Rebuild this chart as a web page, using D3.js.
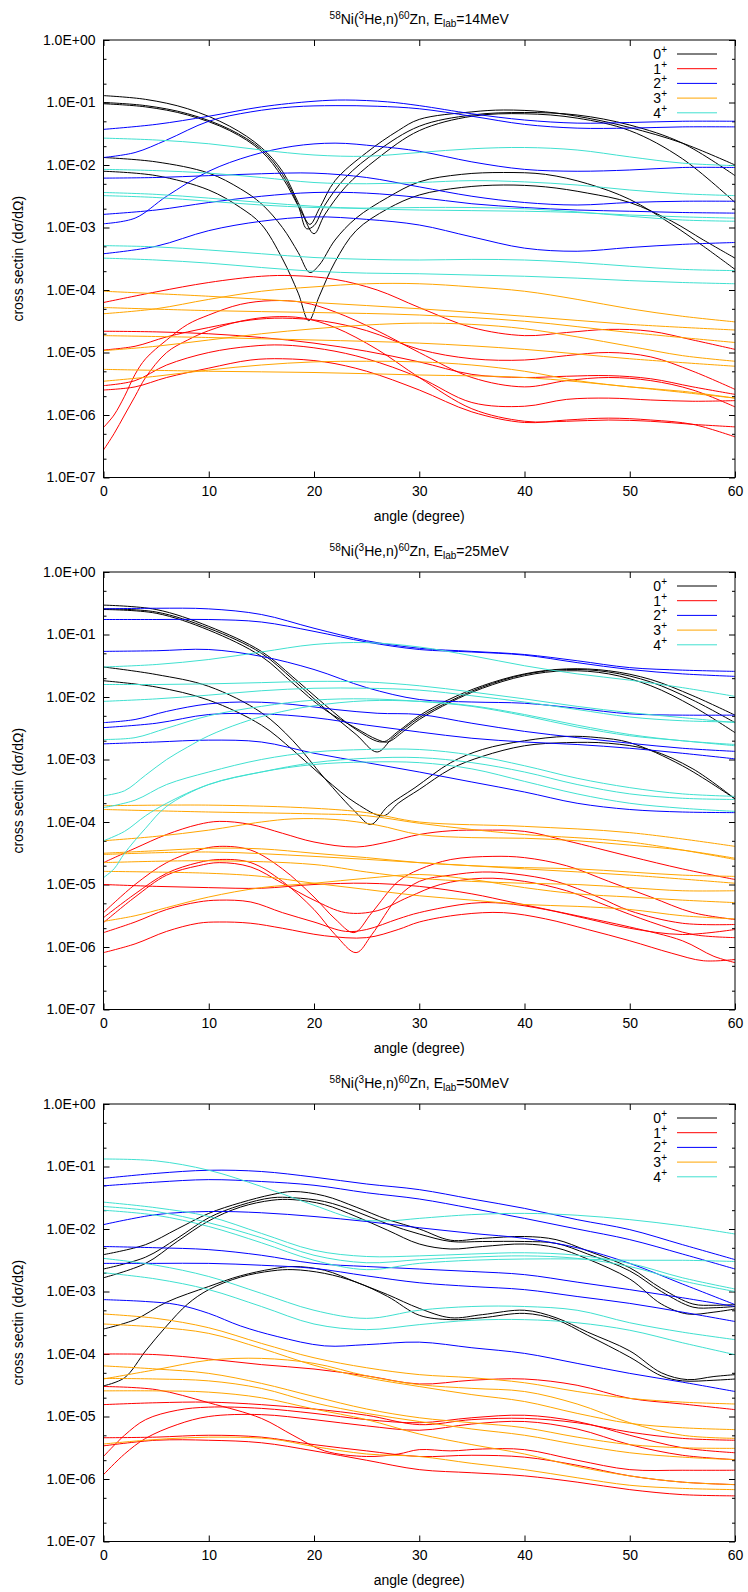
<!DOCTYPE html>
<html>
<head>
<meta charset="utf-8">
<script src="https://cdnjs.cloudflare.com/ajax/libs/d3/7.8.5/d3.min.js"></script>
<style>
  body { margin: 0; background: #fff; }
  svg text { font-family: "Liberation Sans", Arial, Helvetica, sans-serif; fill: #000; }
</style>
</head>
<body>
<svg id="chart"></svg>
<script>
// ---- data ----------------------------------------------------------
var energies = [14, 25, 50];
var spins = ["0", "1", "2", "3", "4"];
var spinColors = ["#000000", "#ff0000", "#0000ff", "#ffa500", "#40e0d0"];
var angleTicks = [0, 10, 20, 30, 40, 50, 60];
var decadeTicks = [1, 1e-1, 1e-2, 1e-3, 1e-4, 1e-5, 1e-6, 1e-7];
var minorTicks = [5e-1, 2e-1, 5e-2, 2e-2, 5e-3, 2e-3, 5e-4, 2e-4, 5e-5, 2e-5, 5e-6, 2e-6, 5e-7, 2e-7];

// every curve: [angle (deg), log10 of dsigma/dOmega]

// E = 14 MeV
var cs14_0 = [
  [[0,-0.89],[4,-0.95],[8,-1.1],[12,-1.38],[15,-1.72],[17,-2.1],[18.5,-2.6],[19.6,-2.95],[20.5,-2.7],[22,-2.25],[25,-1.8],[28,-1.45],[30,-1.27],[35,-1.15],[38,-1.12],[42,-1.15],[46,-1.25],[50,-1.4],[55,-1.65],[60,-2.0]],
  [[0,-1.0],[4,-1.05],[8,-1.18],[12,-1.43],[15,-1.75],[17,-2.15],[18.5,-2.65],[19.3,-3.02],[20,-2.97],[21,-2.65],[23,-2.2],[26,-1.78],[30,-1.38],[35,-1.2],[40,-1.16],[45,-1.2],[50,-1.36],[55,-1.65],[60,-2.17]],
  [[0,-1.02],[4,-1.07],[8,-1.2],[12,-1.45],[15,-1.78],[17,-2.2],[18.8,-2.75],[20,-3.1],[21,-2.8],[23,-2.35],[26,-1.9],[30,-1.45],[35,-1.22],[40,-1.18],[45,-1.25],[50,-1.45],[55,-1.9],[60,-2.6]],
  [[0,-1.88],[5,-1.95],[10,-2.13],[13,-2.38],[15,-2.62],[17,-3.0],[18.5,-3.4],[19.6,-3.72],[20.5,-3.6],[22,-3.2],[24,-2.85],[27,-2.52],[30,-2.27],[34,-2.15],[38,-2.12],[42,-2.15],[46,-2.3],[50,-2.55],[54,-2.95],[57,-3.3],[60,-3.67]],
  [[0,-2.1],[5,-2.17],[10,-2.4],[13,-2.68],[15,-2.95],[17,-3.5],[18.5,-4.05],[19.5,-4.49],[20.5,-4.1],[22,-3.55],[24,-3.05],[27,-2.7],[30,-2.48],[34,-2.36],[38,-2.32],[42,-2.35],[46,-2.45],[50,-2.6],[54,-2.9],[57,-3.2],[60,-3.49]]
];
var cs14_1 = [
  [[0,-4.2],[5,-4.03],[10,-3.88],[15,-3.78],[18,-3.77],[22,-3.83],[26,-4.0],[30,-4.28],[35,-4.6],[40,-4.73],[44,-4.68],[48,-4.63],[52,-4.66],[56,-4.8],[60,-4.95]],
  [[0,-4.66],[5,-4.67],[10,-4.7],[15,-4.76],[20,-4.85],[25,-4.98],[30,-5.15],[35,-5.35],[40,-5.4],[44,-5.38],[48,-5.37],[52,-5.42],[56,-5.55],[60,-5.67]],
  [[0,-4.96],[3,-4.9],[6,-4.75],[10,-4.6],[14,-4.48],[17,-4.45],[21,-4.5],[25,-4.65],[30,-4.95],[35,-5.1],[40,-5.12],[44,-5.05],[48,-5.0],[52,-5.07],[56,-5.3],[60,-5.59]],
  [[0,-5.53],[3,-5.45],[6,-5.2],[10,-5.0],[14,-4.9],[17,-4.88],[21,-4.95],[25,-5.1],[30,-5.4],[35,-5.8],[40,-5.86],[44,-5.75],[48,-5.73],[52,-5.76],[56,-5.78],[60,-5.77]],
  [[0,-5.6],[3,-5.55],[6,-5.4],[10,-5.25],[14,-5.12],[17,-5.1],[21,-5.15],[25,-5.3],[30,-5.6],[35,-5.95],[40,-6.12],[44,-6.08],[48,-6.05],[52,-6.08],[56,-6.15],[60,-6.35]],
  [[0,-6.2],[1,-6.0],[2,-5.7],[3,-5.35],[4,-5.1],[6,-4.8],[8,-4.55],[10,-4.4],[13,-4.23],[16,-4.17],[19,-4.2],[22,-4.35],[26,-4.65],[30,-5.0],[35,-5.4],[40,-5.55],[44,-5.45],[48,-5.4],[52,-5.45],[56,-5.6],[60,-5.87]],
  [[0,-6.56],[1,-6.3],[2,-6.0],[3,-5.7],[4,-5.4],[6,-5.0],[8,-4.8],[10,-4.65],[13,-4.5],[16,-4.43],[19,-4.45],[22,-4.6],[26,-4.95],[30,-5.4],[35,-5.9],[40,-6.1],[44,-6.1],[48,-6.08],[52,-6.1],[56,-6.15],[60,-6.19]]
];
var cs14_2 = [
  [[0,-1.43],[5,-1.35],[10,-1.22],[15,-1.07],[20,-0.98],[23,-0.96],[27,-0.99],[30,-1.05],[35,-1.18],[40,-1.28],[45,-1.33],[50,-1.32],[55,-1.3],[60,-1.3]],
  [[0,-1.88],[3,-1.8],[6,-1.6],[10,-1.3],[14,-1.15],[18,-1.07],[22,-1.05],[26,-1.06],[30,-1.1],[35,-1.22],[40,-1.35],[45,-1.41],[50,-1.41],[55,-1.39],[60,-1.39]],
  [[0,-2.94],[3,-2.85],[6,-2.5],[10,-2.1],[14,-1.85],[18,-1.7],[22,-1.65],[26,-1.7],[30,-1.78],[35,-1.95],[40,-2.07],[45,-2.1],[50,-2.08],[55,-2.04],[60,-2.04]],
  [[0,-2.21],[5,-2.2],[10,-2.17],[15,-2.14],[20,-2.13],[25,-2.2],[30,-2.35],[35,-2.5],[40,-2.6],[45,-2.64],[50,-2.6],[55,-2.58],[60,-2.58]],
  [[0,-2.79],[5,-2.72],[10,-2.6],[15,-2.5],[20,-2.44],[25,-2.45],[30,-2.52],[35,-2.62],[40,-2.68],[45,-2.72],[50,-2.74],[55,-2.76],[60,-2.77]],
  [[0,-3.42],[5,-3.3],[10,-3.05],[15,-2.9],[20,-2.83],[25,-2.87],[30,-2.96],[35,-3.15],[40,-3.33],[45,-3.38],[50,-3.32],[55,-3.27],[60,-3.24]]
];
var cs14_3 = [
  [[0,-4.02],[10,-4.1],[20,-4.2],[30,-4.3],[40,-4.42],[50,-4.55],[60,-4.64]],
  [[0,-4.38],[5,-4.3],[10,-4.15],[15,-4.02],[20,-3.95],[25,-3.9],[30,-3.9],[35,-3.95],[40,-4.02],[45,-4.15],[50,-4.3],[55,-4.42],[60,-4.51]],
  [[0,-4.28],[10,-4.33],[20,-4.36],[30,-4.4],[40,-4.5],[50,-4.68],[60,-4.84]],
  [[0,-4.73],[10,-4.76],[20,-4.8],[30,-4.85],[40,-4.95],[50,-5.1],[60,-5.22]],
  [[0,-4.97],[5,-4.9],[10,-4.8],[15,-4.7],[20,-4.62],[25,-4.56],[30,-4.53],[35,-4.55],[40,-4.62],[45,-4.75],[50,-4.9],[55,-5.05],[60,-5.14]],
  [[0,-5.27],[10,-5.3],[20,-5.32],[30,-5.36],[40,-5.4],[50,-5.55],[60,-5.73]],
  [[0,-5.46],[5,-5.38],[10,-5.28],[15,-5.2],[20,-5.15],[25,-5.14],[30,-5.15],[35,-5.2],[40,-5.3],[45,-5.45],[50,-5.55],[55,-5.62],[60,-5.73]]
];
var cs14_4 = [
  [[0,-1.57],[5,-1.6],[10,-1.66],[15,-1.76],[20,-1.84],[25,-1.86],[30,-1.8],[35,-1.74],[40,-1.72],[45,-1.76],[50,-1.87],[55,-1.97],[60,-2.01]],
  [[0,-2.07],[5,-2.09],[10,-2.13],[15,-2.2],[20,-2.28],[25,-2.3],[30,-2.28],[35,-2.25],[40,-2.27],[45,-2.32],[50,-2.4],[55,-2.46],[60,-2.49]],
  [[0,-2.44],[5,-2.47],[10,-2.53],[15,-2.6],[20,-2.66],[25,-2.7],[30,-2.72],[35,-2.73],[40,-2.74],[45,-2.76],[50,-2.8],[55,-2.83],[60,-2.85]],
  [[0,-2.49],[5,-2.52],[10,-2.58],[15,-2.64],[20,-2.68],[25,-2.69],[30,-2.68],[35,-2.68],[40,-2.7],[45,-2.75],[50,-2.82],[55,-2.88],[60,-2.9]],
  [[0,-3.29],[5,-3.31],[10,-3.36],[15,-3.42],[20,-3.48],[25,-3.51],[30,-3.52],[35,-3.51],[40,-3.52],[45,-3.56],[50,-3.62],[55,-3.67],[60,-3.69]],
  [[0,-3.49],[5,-3.52],[10,-3.57],[15,-3.64],[20,-3.7],[25,-3.73],[30,-3.74],[35,-3.76],[40,-3.78],[45,-3.81],[50,-3.85],[55,-3.88],[60,-3.9]]
];

// E = 25 MeV
var cs25_0 = [
  [[0,-0.53],[5,-0.6],[10,-0.87],[15,-1.27],[18,-1.68],[21,-2.12],[24,-2.52],[26.5,-2.72],[28,-2.55],[30,-2.3],[32.7,-2.05],[36,-1.82],[40,-1.63],[44,-1.55],[48,-1.58],[52,-1.72],[56,-1.98],[60,-2.29]],
  [[0,-0.59],[5,-0.64],[10,-0.9],[15,-1.3],[18,-1.72],[21,-2.18],[24,-2.6],[26,-2.88],[27.5,-2.65],[30,-2.33],[33,-2.06],[36,-1.84],[40,-1.64],[44,-1.56],[48,-1.6],[52,-1.76],[56,-2.05],[60,-2.41]],
  [[0,-0.6],[5,-0.66],[10,-0.93],[15,-1.35],[18,-1.78],[21,-2.2],[24,-2.5],[26,-2.68],[27,-2.72],[28.5,-2.55],[30,-2.36],[33,-2.08],[36,-1.86],[40,-1.66],[44,-1.58],[48,-1.63],[52,-1.82],[56,-2.15],[60,-2.57]],
  [[0,-1.52],[5,-1.64],[10,-1.83],[15,-2.25],[18,-2.7],[21,-3.3],[24,-3.85],[25.4,-4.04],[27,-3.75],[29.6,-3.45],[33,-3.05],[36,-2.84],[40,-2.7],[44,-2.63],[47,-2.65],[50,-2.73],[55,-3.1],[60,-3.63]],
  [[0,-1.74],[5,-1.84],[10,-2.05],[15,-2.45],[18,-2.85],[21,-3.3],[24,-3.7],[26.6,-3.9],[28,-3.7],[30,-3.48],[33,-3.15],[36,-2.95],[40,-2.78],[44,-2.73],[48,-2.74],[52,-2.85],[56,-3.15],[60,-3.63]]
];
var cs25_1 = [
  [[0,-4.65],[3,-4.42],[6,-4.2],[9,-4.04],[11,-3.99],[14,-4.04],[17,-4.18],[20,-4.32],[24,-4.4],[27,-4.32],[30,-4.2],[33,-4.14],[36,-4.13],[40,-4.15],[44,-4.3],[50,-4.55],[55,-4.75],[60,-4.92]],
  [[0,-5.45],[3,-5.0],[6,-4.65],[9,-4.45],[11,-4.39],[14,-4.45],[17,-4.75],[20,-5.2],[22,-5.55],[23.8,-5.77],[25.5,-5.45],[28,-4.95],[30,-4.76],[33,-4.6],[37,-4.55],[40,-4.57],[44,-4.7],[48,-4.95],[52,-5.2],[56,-5.45],[60,-5.56]],
  [[0,-5.53],[3,-5.15],[6,-4.82],[9,-4.65],[11,-4.6],[14,-4.65],[17,-4.95],[20,-5.4],[22,-5.8],[24,-6.09],[25.5,-5.8],[28,-5.2],[30,-4.95],[33,-4.85],[36,-4.8],[39,-4.83],[43,-4.95],[47,-5.2],[50,-5.42],[55,-5.62],[60,-5.64]],
  [[0,-5.0],[5,-5.03],[10,-5.05],[15,-5.06],[20,-5.0],[25,-4.98],[30,-5.03],[35,-5.15],[39,-5.29],[45,-5.5],[50,-5.68],[55,-5.9],[58,-6.15],[60,-6.25]],
  [[0,-5.77],[3,-5.6],[6,-5.4],[9,-5.28],[11,-5.25],[14,-5.28],[17,-5.45],[20,-5.6],[23,-5.75],[25,-5.72],[28,-5.55],[30,-5.45],[35,-5.3],[38,-5.3],[42,-5.4],[46,-5.55],[50,-5.7],[55,-5.8],[60,-5.72]],
  [[0,-6.09],[3,-5.95],[6,-5.75],[9,-5.62],[11,-5.6],[14,-5.62],[17,-5.7],[21,-5.82],[25,-5.85],[28,-5.72],[30,-5.6],[34,-5.48],[38,-5.45],[42,-5.55],[46,-5.72],[50,-5.9],[54,-6.1],[57,-6.22],[60,-6.2]],
  [[0,-5.61],[3,-5.2],[6,-4.85],[9,-4.7],[11,-4.65],[14,-4.72],[17,-4.98],[20,-5.25],[23,-5.45],[26,-5.42],[29,-5.2],[32,-5.0],[36,-4.9],[40,-4.95],[44,-5.1],[48,-5.35],[52,-5.6],[56,-5.8],[60,-5.85]]
];
var cs25_2 = [
  [[0,-0.59],[5,-0.58],[10,-0.59],[15,-0.68],[20,-0.9],[25,-1.1],[30,-1.22],[35,-1.27],[40,-1.32],[45,-1.42],[50,-1.53],[55,-1.57],[60,-1.59]],
  [[0,-0.76],[5,-0.76],[10,-0.76],[15,-0.8],[20,-0.95],[25,-1.12],[30,-1.24],[35,-1.28],[40,-1.33],[45,-1.45],[50,-1.56],[55,-1.63],[60,-1.67]],
  [[0,-1.27],[5,-1.26],[10,-1.24],[15,-1.35],[20,-1.56],[25,-1.85],[30,-2.04],[35,-2.08],[40,-2.1],[45,-2.18],[50,-2.27],[55,-2.29],[60,-2.29]],
  [[0,-2.41],[3,-2.36],[6,-2.23],[10,-2.11],[14,-2.08],[18,-2.12],[22,-2.2],[26,-2.26],[30,-2.28],[35,-2.42],[40,-2.55],[45,-2.65],[50,-2.74],[55,-2.82],[60,-2.87]],
  [[0,-2.49],[5,-2.42],[10,-2.28],[15,-2.27],[20,-2.33],[25,-2.45],[30,-2.56],[35,-2.66],[40,-2.72],[45,-2.76],[50,-2.82],[55,-2.9],[60,-2.99]],
  [[0,-2.75],[5,-2.72],[10,-2.69],[15,-2.72],[20,-2.9],[25,-3.05],[30,-3.2],[35,-3.36],[40,-3.52],[45,-3.7],[50,-3.8],[55,-3.84],[60,-3.85]]
];
var cs25_3 = [
  [[0,-3.74],[10,-3.73],[20,-3.78],[25,-3.85],[30,-4.0],[40,-4.07],[50,-4.17],[60,-4.39]],
  [[0,-3.8],[10,-3.84],[20,-3.87],[25,-3.9],[30,-4.02],[35,-4.12],[40,-4.2],[50,-4.32],[60,-4.6]],
  [[0,-4.3],[5,-4.23],[10,-4.13],[15,-4.0],[18,-3.95],[22,-3.96],[26,-4.05],[30,-4.2],[35,-4.25],[40,-4.26],[45,-4.3],[50,-4.37],[55,-4.45],[60,-4.58]],
  [[0,-4.5],[5,-4.46],[10,-4.42],[15,-4.43],[20,-4.5],[25,-4.57],[30,-4.65],[35,-4.7],[40,-4.73],[45,-4.75],[50,-4.8],[55,-4.85],[60,-4.87]],
  [[0,-4.52],[10,-4.48],[20,-4.55],[30,-4.65],[40,-4.75],[50,-4.85],[60,-4.98]],
  [[0,-4.65],[10,-4.62],[20,-4.68],[25,-4.8],[30,-4.9],[35,-4.95],[40,-4.98],[45,-5.0],[50,-5.05],[55,-5.1],[60,-5.1]],
  [[0,-4.79],[10,-4.82],[15,-4.87],[20,-4.98],[25,-5.08],[30,-5.18],[35,-5.25],[40,-5.32],[45,-5.35],[50,-5.4],[55,-5.5],[60,-5.55]],
  [[0,-5.59],[3,-5.5],[6,-5.37],[10,-5.2],[15,-5.05],[20,-4.98],[25,-4.9],[30,-4.84],[35,-4.92],[40,-5.05],[45,-5.15],[50,-5.2],[55,-5.25],[60,-5.29]]
];
var cs25_4 = [
  [[0,-1.52],[5,-1.48],[10,-1.4],[15,-1.28],[20,-1.16],[25,-1.13],[30,-1.2],[35,-1.34],[40,-1.5],[45,-1.63],[50,-1.73],[55,-1.85],[60,-1.99]],
  [[0,-1.8],[5,-1.8],[10,-1.79],[15,-1.77],[20,-1.75],[25,-1.76],[30,-1.82],[35,-1.92],[40,-2.03],[45,-2.15],[50,-2.25],[55,-2.33],[60,-2.41]],
  [[0,-2.07],[5,-2.03],[10,-1.97],[15,-1.9],[20,-1.86],[25,-1.86],[30,-1.89],[35,-1.98],[40,-2.08],[45,-2.2],[50,-2.32],[55,-2.38],[60,-2.4]],
  [[0,-2.68],[3,-2.65],[6,-2.5],[10,-2.3],[15,-2.15],[20,-2.05],[25,-2.03],[30,-2.07],[35,-2.15],[40,-2.3],[45,-2.48],[50,-2.62],[55,-2.7],[60,-2.78]],
  [[0,-3.58],[2,-3.5],[4,-3.25],[6,-3.0],[8,-2.8],[10,-2.62],[13,-2.42],[16,-2.27],[20,-2.14],[25,-2.06],[30,-2.07],[35,-2.14],[40,-2.28],[45,-2.45],[50,-2.6],[55,-2.7],[60,-2.76]],
  [[0,-3.77],[3,-3.65],[6,-3.4],[10,-3.2],[15,-3.0],[20,-2.88],[25,-2.84],[30,-2.84],[35,-2.93],[40,-3.1],[45,-3.3],[50,-3.45],[55,-3.55],[60,-3.59]],
  [[0,-4.3],[2,-4.15],[4,-3.9],[6,-3.7],[10,-3.4],[15,-3.2],[20,-3.05],[25,-2.98],[30,-2.97],[35,-3.05],[40,-3.2],[45,-3.4],[50,-3.55],[55,-3.62],[60,-3.64]],
  [[0,-4.89],[1,-4.75],[2,-4.5],[4,-4.1],[6,-3.75],[10,-3.4],[15,-3.2],[20,-3.08],[25,-3.04],[30,-3.05],[35,-3.15],[40,-3.35],[45,-3.55],[50,-3.7],[55,-3.78],[60,-3.83]]
];

// E = 50 MeV
var cs50_0 = [
  [[0,-2.41],[4,-2.25],[7,-2.0],[10,-1.75],[13,-1.58],[16,-1.45],[18,-1.4],[21,-1.47],[24,-1.65],[27,-1.85],[30,-2.0],[33,-2.18],[36,-2.15],[40,-2.12],[43,-2.17],[46,-2.35],[50,-2.62],[53,-2.95],[56,-3.2],[58,-3.22],[60,-3.21]],
  [[0,-2.64],[4,-2.45],[7,-2.15],[10,-1.82],[13,-1.62],[16,-1.5],[18,-1.5],[21,-1.56],[24,-1.72],[27,-1.92],[30,-2.08],[33,-2.2],[36,-2.2],[40,-2.2],[43,-2.23],[46,-2.4],[50,-2.67],[53,-3.0],[56,-3.25],[58,-3.26],[60,-3.24]],
  [[0,-2.78],[4,-2.55],[7,-2.2],[10,-1.87],[13,-1.65],[16,-1.54],[18,-1.53],[21,-1.61],[24,-1.8],[27,-2.02],[30,-2.24],[33,-2.32],[36,-2.28],[40,-2.24],[43,-2.3],[46,-2.48],[50,-2.8],[53,-3.2],[55.5,-3.36],[58,-3.33],[60,-3.28]],
  [[0,-3.6],[3,-3.45],[6,-3.17],[10,-2.92],[13,-2.75],[16,-2.64],[18,-2.6],[21,-2.66],[24,-2.85],[27,-3.05],[30,-3.27],[33,-3.42],[36,-3.37],[40,-3.3],[43,-3.42],[46,-3.65],[50,-3.95],[53,-4.3],[55.5,-4.41],[58,-4.36],[60,-4.33]],
  [[0,-4.51],[2,-4.38],[4,-3.95],[6,-3.55],[8,-3.2],[10,-2.97],[13,-2.77],[16,-2.67],[18,-2.65],[21,-2.71],[24,-2.85],[27,-3.08],[30,-3.38],[33,-3.45],[36,-3.42],[40,-3.35],[43,-3.45],[46,-3.7],[50,-4.05],[53,-4.35],[55,-4.43],[58,-4.42],[60,-4.4]]
];
var cs50_1 = [
  [[0,-4.0],[5,-4.01],[10,-4.08],[15,-4.17],[20,-4.24],[25,-4.35],[30,-4.48],[35,-4.42],[40,-4.4],[45,-4.5],[50,-4.71],[55,-4.8],[60,-4.89]],
  [[0,-4.52],[5,-4.57],[10,-4.78],[15,-5.03],[18,-5.3],[21,-5.55],[25,-5.64],[28,-5.6],[30,-5.53],[33,-5.55],[36,-5.52],[40,-5.53],[45,-5.7],[50,-5.85],[55,-5.86],[60,-5.86]],
  [[0,-4.81],[5,-4.78],[10,-4.77],[15,-4.81],[20,-4.88],[25,-4.98],[30,-5.13],[35,-5.05],[40,-5.03],[45,-5.1],[50,-5.25],[55,-5.35],[60,-5.38]],
  [[0,-5.64],[2,-5.3],[4,-5.05],[7,-4.9],[10,-4.85],[15,-4.87],[20,-4.95],[25,-5.05],[30,-5.1],[35,-5.02],[40,-4.98],[45,-5.08],[50,-5.3],[55,-5.5],[60,-5.58]],
  [[0,-5.93],[2,-5.6],[4,-5.35],[7,-5.13],[10,-5.0],[15,-4.97],[20,-5.05],[25,-5.15],[30,-5.22],[35,-5.12],[40,-5.08],[45,-5.2],[50,-5.45],[55,-5.62],[60,-5.69]],
  [[0,-5.34],[5,-5.33],[10,-5.3],[15,-5.33],[20,-5.45],[25,-5.55],[30,-5.64],[35,-5.62],[40,-5.65],[45,-5.78],[50,-5.95],[55,-6.05],[60,-6.09]],
  [[0,-5.47],[5,-5.38],[10,-5.38],[15,-5.42],[20,-5.55],[25,-5.7],[30,-5.85],[35,-5.9],[40,-5.95],[45,-6.05],[50,-6.17],[55,-6.25],[60,-6.27]]
];
var cs50_2 = [
  [[0,-1.19],[5,-1.11],[10,-1.06],[15,-1.08],[20,-1.17],[25,-1.28],[30,-1.37],[35,-1.52],[40,-1.67],[45,-1.85],[50,-2.01],[55,-2.25],[60,-2.49]],
  [[0,-1.31],[5,-1.25],[10,-1.21],[15,-1.24],[20,-1.3],[25,-1.42],[30,-1.52],[35,-1.67],[40,-1.83],[45,-2.0],[50,-2.17],[55,-2.4],[60,-2.64]],
  [[0,-1.93],[5,-1.77],[10,-1.72],[15,-1.74],[20,-1.8],[25,-1.88],[30,-1.98],[35,-2.07],[40,-2.15],[45,-2.3],[50,-2.55],[55,-2.88],[60,-3.21]],
  [[0,-2.28],[5,-2.3],[10,-2.33],[15,-2.42],[20,-2.55],[25,-2.6],[30,-2.64],[35,-2.68],[40,-2.73],[45,-2.85],[50,-2.97],[55,-3.1],[60,-3.24]],
  [[0,-2.55],[5,-2.55],[10,-2.55],[15,-2.58],[20,-2.63],[25,-2.75],[30,-2.86],[35,-2.92],[40,-2.97],[45,-3.08],[50,-3.19],[55,-3.33],[60,-3.48]],
  [[0,-3.13],[4,-3.16],[7,-3.21],[10,-3.35],[13,-3.55],[16.5,-3.72],[21,-3.87],[25,-3.85],[30,-3.81],[35,-3.9],[40,-3.99],[45,-4.15],[50,-4.31],[55,-4.45],[60,-4.6]]
];
var cs50_3 = [
  [[0,-3.36],[5,-3.43],[10,-3.58],[15,-3.83],[20,-4.06],[25,-4.22],[30,-4.33],[35,-4.38],[40,-4.46],[45,-4.6],[50,-4.71],[55,-4.77],[60,-4.8]],
  [[0,-3.52],[5,-3.57],[10,-3.67],[15,-3.91],[20,-4.18],[25,-4.38],[30,-4.52],[35,-4.65],[40,-4.76],[45,-4.95],[50,-5.11],[55,-5.18],[60,-5.21]],
  [[0,-4.4],[5,-4.25],[10,-4.1],[15,-4.07],[20,-4.15],[25,-4.35],[30,-4.49],[35,-4.55],[40,-4.6],[45,-4.8],[50,-5.1],[55,-5.3],[60,-5.35]],
  [[0,-4.19],[5,-4.24],[10,-4.31],[15,-4.47],[20,-4.68],[25,-4.88],[30,-5.02],[35,-5.1],[40,-5.18],[45,-5.33],[50,-5.45],[55,-5.5],[60,-5.51]],
  [[0,-4.39],[5,-4.4],[10,-4.43],[15,-4.55],[20,-4.78],[25,-4.95],[30,-5.08],[35,-5.2],[40,-5.3],[45,-5.45],[50,-5.58],[55,-5.65],[60,-5.69]],
  [[0,-4.59],[5,-4.59],[10,-4.61],[15,-4.7],[20,-4.88],[25,-5.05],[30,-5.28],[35,-5.45],[40,-5.6],[45,-5.8],[50,-5.95],[55,-6.05],[60,-6.09]],
  [[0,-5.44],[4,-5.38],[8,-5.34],[12,-5.33],[16,-5.36],[20,-5.48],[25,-5.6],[30,-5.64],[35,-5.75],[40,-5.85],[45,-5.98],[50,-6.1],[55,-6.15],[60,-6.17]]
];
var cs50_4 = [
  [[0,-0.88],[5,-0.91],[10,-1.06],[15,-1.32],[20,-1.62],[24,-1.84],[27,-1.87],[30,-1.83],[35,-1.77],[40,-1.75],[45,-1.78],[50,-1.85],[55,-1.95],[60,-2.08]],
  [[0,-1.57],[5,-1.66],[10,-1.8],[15,-2.07],[20,-2.34],[25,-2.44],[30,-2.43],[35,-2.4],[40,-2.38],[45,-2.42],[50,-2.55],[55,-2.78],[60,-2.96]],
  [[0,-1.64],[5,-1.72],[10,-1.9],[15,-2.14],[20,-2.42],[25,-2.54],[30,-2.49],[35,-2.45],[40,-2.43],[45,-2.47],[50,-2.6],[55,-2.83],[60,-3.0]],
  [[0,-1.7],[5,-1.78],[10,-1.96],[15,-2.22],[20,-2.5],[25,-2.65],[30,-2.55],[35,-2.5],[40,-2.48],[45,-2.48],[50,-2.5],[55,-2.5],[60,-2.52]],
  [[0,-2.47],[5,-2.58],[10,-2.76],[15,-3.03],[20,-3.3],[25,-3.43],[30,-3.3],[35,-3.24],[40,-3.24],[45,-3.3],[50,-3.5],[55,-3.65],[60,-3.77]],
  [[0,-2.7],[5,-2.8],[10,-2.97],[15,-3.24],[20,-3.52],[25,-3.61],[30,-3.53],[35,-3.46],[40,-3.45],[45,-3.5],[50,-3.62],[55,-3.82],[60,-4.01]]
];

var panelSets = [
  [cs14_0, cs14_1, cs14_2, cs14_3, cs14_4],
  [cs25_0, cs25_1, cs25_2, cs25_3, cs25_4],
  [cs50_0, cs50_1, cs50_2, cs50_3, cs50_4]
];

// ---- layout --------------------------------------------------------
var W = 748, H = 1592;
var margin = {left: 103.5, right: 13, top: 40};
var plotH = 437.5, panelStep = 532;
var plotW = W - margin.left - margin.right;

var svg = d3.select("#chart").attr("width", W).attr("height", H);

var x = d3.scaleLinear().domain([0, 60]).range([0, plotW]);
var y = d3.scaleLog().domain([1e-7, 1]).range([plotH, 0]);

function sciLabel(d) {
  var ex = Math.round(Math.log10(d));
  return "1.0E" + (ex < 0 ? "-" : "+") + String(Math.abs(ex)).padStart(2, "0");
}

var line = d3.line()
  .x(function(d) { return x(d[0]); })
  .y(function(d) { return y(Math.pow(10, d[1])); })
  .curve(d3.curveCatmullRom.alpha(0.5));

energies.forEach(function(E, k) {
  var g = svg.append("g")
    .attr("transform", "translate(" + margin.left + "," + (margin.top + k * panelStep) + ")");

  // title
  var t = g.append("text")
    .attr("x", plotW / 2).attr("y", -16)
    .attr("text-anchor", "middle")
    .style("font-size", "14px");
  t.append("tspan").attr("dy", -5).style("font-size", "10px").text("58");
  t.append("tspan").attr("dy", 5).text("Ni(");
  t.append("tspan").attr("dy", -5).style("font-size", "10px").text("3");
  t.append("tspan").attr("dy", 5).text("He,n)");
  t.append("tspan").attr("dy", -5).style("font-size", "10px").text("60");
  t.append("tspan").attr("dy", 5).text("Zn, E");
  t.append("tspan").attr("dy", 3).style("font-size", "10px").text("lab");
  t.append("tspan").attr("dy", -3).text("=" + E + "MeV");

  // axes
  var xb = g.append("g").attr("transform", "translate(0," + plotH + ")")
    .call(d3.axisBottom(x).tickValues(angleTicks).tickSize(-6).tickPadding(9));
  var xt = g.append("g")
    .call(d3.axisTop(x).tickValues(angleTicks).tickSize(-6).tickFormat(""));
  var yl = g.append("g")
    .call(d3.axisLeft(y).tickValues(decadeTicks).tickSize(-6).tickPadding(8).tickFormat(sciLabel));
  var ylm = g.append("g")
    .call(d3.axisLeft(y).tickValues(minorTicks).tickSize(-3).tickFormat(""));
  var yr = g.append("g").attr("transform", "translate(" + plotW + ",0)")
    .call(d3.axisRight(y).tickValues(decadeTicks).tickSize(-6).tickFormat(""));
  var yrm = g.append("g").attr("transform", "translate(" + plotW + ",0)")
    .call(d3.axisRight(y).tickValues(minorTicks).tickSize(-3).tickFormat(""));

  [xb, xt, yl, ylm, yr, yrm].forEach(function(a) {
    a.select(".domain").remove();
    a.selectAll("text").style("font-size", "14px").style("font-family", "'Liberation Sans', Arial, sans-serif");
    a.selectAll("line").attr("stroke", "#000");
  });

  // axis labels
  g.append("text")
    .attr("x", plotW / 2).attr("y", plotH + 43)
    .attr("text-anchor", "middle").style("font-size", "14px")
    .text("angle (degree)");
  g.append("text")
    .attr("transform", "translate(" + (-81) + "," + (plotH / 2) + ") rotate(-90)")
    .attr("text-anchor", "middle").style("font-size", "14px")
    .text("cross sectin (d\u03c3/d\u03a9)");

  // curves
  var clipId = "clip" + k;
  g.append("clipPath").attr("id", clipId)
    .append("rect").attr("width", plotW).attr("height", plotH);
  var cg = g.append("g").attr("clip-path", "url(#" + clipId + ")");
  panelSets[k].forEach(function(set, j) {
    cg.selectAll(".c" + j)
      .data(set)
      .enter().append("path")
      .attr("class", "c" + j)
      .attr("fill", "none")
      .attr("stroke", spinColors[j])
      .attr("stroke-width", 1)
      .attr("d", line);
  });

  // legend
  var lg = g.append("g");
  spins.forEach(function(s, i) {
    var ly = 14 + i * 14.7;
    var lt = lg.append("text")
      .attr("x", plotW - 68).attr("y", ly + 5)
      .attr("text-anchor", "end").style("font-size", "14px");
    lt.append("tspan").text(s);
    lt.append("tspan").attr("dy", -6).style("font-size", "10px").text("+");
    lg.append("line")
      .attr("x1", plotW - 58).attr("x2", plotW - 18)
      .attr("y1", ly).attr("y2", ly)
      .attr("stroke", spinColors[i]).attr("stroke-width", 1);
  });

  // frame
  g.append("rect")
    .attr("width", plotW).attr("height", plotH)
    .attr("fill", "none").attr("stroke", "#000").attr("stroke-width", 1);
});
</script>
</body>
</html>
